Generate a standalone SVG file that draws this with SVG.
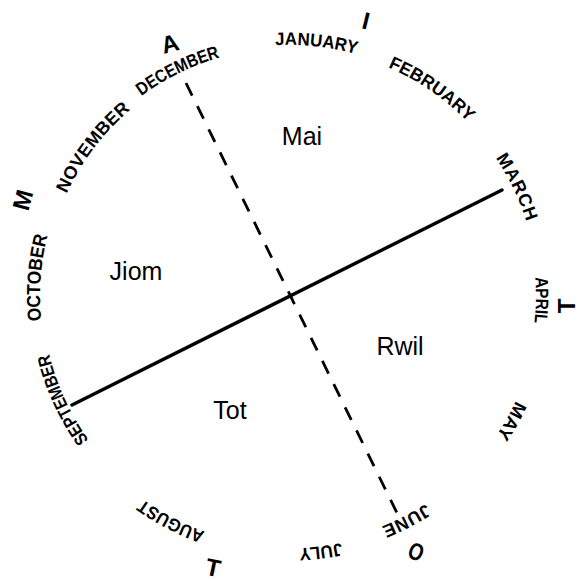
<svg xmlns="http://www.w3.org/2000/svg" xmlns:xlink="http://www.w3.org/1999/xlink" width="579" height="581" viewBox="0 0 579 581">
<style>
.m{font-family:"Liberation Sans",Arial,sans-serif;font-size:18px;font-weight:bold;fill:#000;text-anchor:middle}
.c{font-family:"Liberation Sans",Arial,sans-serif;font-size:24px;font-weight:bold;fill:#000;text-anchor:middle}
.r{font-family:"Liberation Sans",Arial,sans-serif;font-size:25px;fill:#000;text-anchor:middle}
</style>
<defs>
<path id="ring" d="M 245.93 540.23 A 248 248 0 1 1 332.07 51.77 A 248 248 0 1 1 245.93 540.23" fill="none"/>
</defs>
<rect width="579" height="581" fill="#fff"/>
<g id="connectors">
<line x1="72" y1="405" x2="502" y2="190" stroke="#000" stroke-width="3.4" stroke-linecap="round"/>
<line x1="186" y1="83" x2="397" y2="513" stroke="#000" stroke-width="2.8" stroke-dasharray="14 11.8"/>
</g>
<g id="months">
<text id="august" class="m" dy="-2"><textPath xlink:href="#ring" href="#ring" startOffset="76.6" textLength="70" lengthAdjust="spacingAndGlyphs">AUGUST</textPath></text>
<text id="september" class="m" dy="2"><textPath xlink:href="#ring" href="#ring" startOffset="239.8" textLength="96" lengthAdjust="spacingAndGlyphs">SEPTEMBER</textPath></text>
<text id="october" class="m" dy="0" style="font-size:19px"><textPath xlink:href="#ring" href="#ring" startOffset="364.9" textLength="86" lengthAdjust="spacingAndGlyphs">OCTOBER</textPath></text>
<text id="november" class="m" dy="4"><textPath xlink:href="#ring" href="#ring" startOffset="508.2" textLength="108" lengthAdjust="spacing">NOVEMBER</textPath></text>
<text id="december" class="m" dy="0"><textPath xlink:href="#ring" href="#ring" startOffset="623.3" textLength="88" lengthAdjust="spacingAndGlyphs">DECEMBER</textPath></text>
<text id="january" class="m" dy="-3"><textPath xlink:href="#ring" href="#ring" startOffset="764" textLength="81" lengthAdjust="spacingAndGlyphs">JANUARY</textPath></text>
<text id="february" class="m" dy="-1"><textPath xlink:href="#ring" href="#ring" startOffset="886.9" textLength="97" lengthAdjust="spacingAndGlyphs">FEBRUARY</textPath></text>
<text id="march" class="m" dy="0"><textPath xlink:href="#ring" href="#ring" startOffset="1016.3" textLength="71" lengthAdjust="spacing">MARCH</textPath></text>
<text id="april" class="m" dy="2"><textPath xlink:href="#ring" href="#ring" startOffset="1131.4" textLength="46" lengthAdjust="spacingAndGlyphs">APRIL</textPath></text>
<text id="may" class="m" dy="-1"><textPath xlink:href="#ring" href="#ring" startOffset="1254.8" textLength="40" lengthAdjust="spacingAndGlyphs">MAY</textPath></text>
<text id="june" class="m" dy="0"><textPath xlink:href="#ring" href="#ring" startOffset="1398.1" textLength="50" lengthAdjust="spacing">JUNE</textPath></text>
<text id="july" class="m" dy="-4"><textPath xlink:href="#ring" href="#ring" startOffset="1486.8" textLength="42" lengthAdjust="spacingAndGlyphs">JULY</textPath></text>
</g>
<g id="letters">
<g id="letter-a"><text class="c" x="170" y="52" transform="rotate(-15 170 44)">A</text></g>
<g id="letter-i"><text class="c" x="366" y="29" transform="rotate(14 366 21)">I</text></g>
<g id="letter-t1"><text class="c" x="567" y="314" transform="rotate(-90 567 306)">T</text></g>
<g id="letter-o"><text class="c" x="0" y="8" transform="translate(416 552) rotate(20) scale(0.8 1)">O</text></g>
<g id="letter-t2"><text class="c" x="213" y="576" transform="rotate(12 213 568)">T</text></g>
<g id="letter-m"><text class="c" x="23" y="208" transform="rotate(-75 23 200)">M</text></g>
</g>
<g id="mai"><text class="r" x="302" y="145">Mai</text></g>
<g id="jiom"><text class="r" x="136" y="280">Jiom</text></g>
<g id="rwil"><text class="r" x="400" y="355">Rwil</text></g>
<g id="tot"><text class="r" x="230" y="419">Tot</text></g>
</svg>
